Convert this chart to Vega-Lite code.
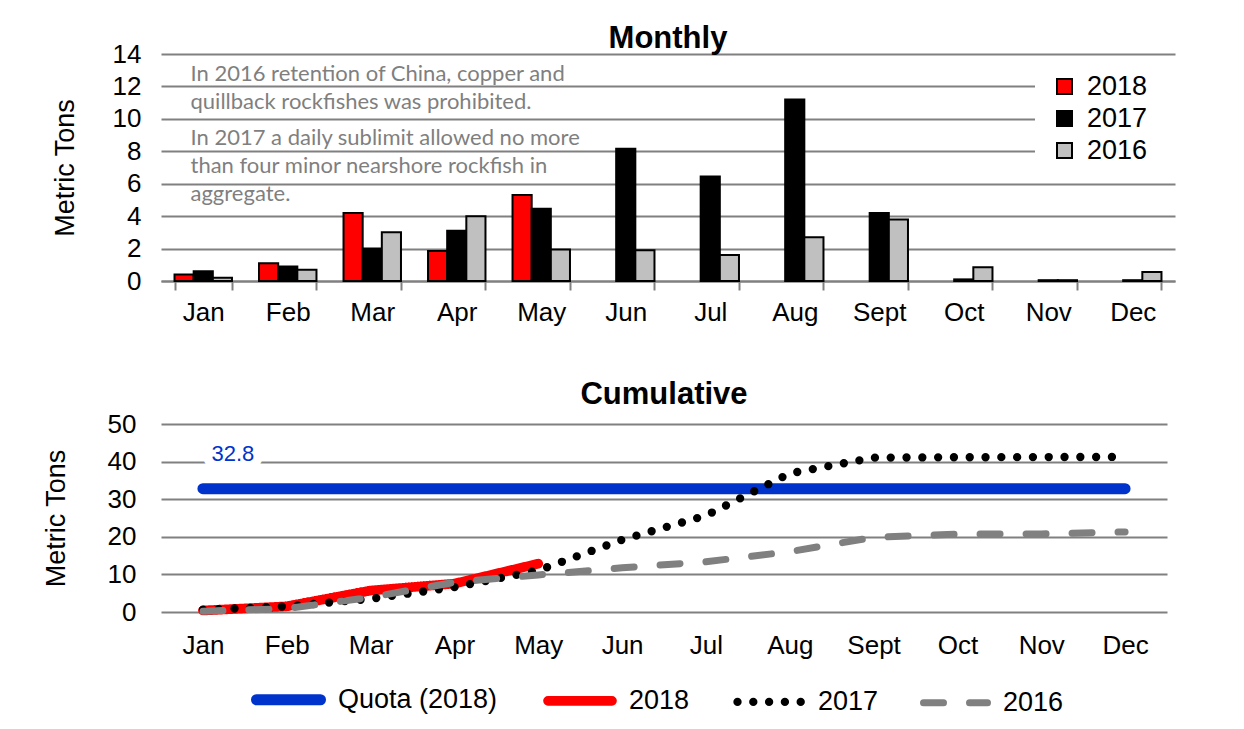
{
  "$schema": "https://vega.github.io/schema/vega-lite/v6.json",
  "padding": {"left": 42, "top": 23, "right": 0, "bottom": 0},
  "background": "white",
  "spacing": 54,
  "resolve": {
    "scale": {"color": "independent", "x": "independent", "y": "independent", "xOffset": "independent", "strokeDash": "independent", "strokeWidth": "independent"},
    "legend": {"color": "independent", "strokeDash": "independent", "strokeWidth": "independent"},
    "axis": {"x": "independent", "y": "independent"}
  },
  "datasets": {
    "monthly": [
      {"month": "Jan", "year": "2018", "value": 0.4},
      {"month": "Feb", "year": "2018", "value": 1.1},
      {"month": "Mar", "year": "2018", "value": 4.2},
      {"month": "Apr", "year": "2018", "value": 1.85},
      {"month": "May", "year": "2018", "value": 5.3},
      {"month": "Jan", "year": "2017", "value": 0.6},
      {"month": "Feb", "year": "2017", "value": 0.9},
      {"month": "Mar", "year": "2017", "value": 2.0},
      {"month": "Apr", "year": "2017", "value": 3.1},
      {"month": "May", "year": "2017", "value": 4.45},
      {"month": "Jun", "year": "2017", "value": 8.15},
      {"month": "Jul", "year": "2017", "value": 6.45},
      {"month": "Aug", "year": "2017", "value": 11.2},
      {"month": "Sept", "year": "2017", "value": 4.2},
      {"month": "Oct", "year": "2017", "value": 0.1},
      {"month": "Nov", "year": "2017", "value": 0.05},
      {"month": "Dec", "year": "2017", "value": 0.05},
      {"month": "Jan", "year": "2016", "value": 0.2},
      {"month": "Feb", "year": "2016", "value": 0.7},
      {"month": "Mar", "year": "2016", "value": 3.0},
      {"month": "Apr", "year": "2016", "value": 4.0},
      {"month": "May", "year": "2016", "value": 1.95},
      {"month": "Jun", "year": "2016", "value": 1.9},
      {"month": "Jul", "year": "2016", "value": 1.6},
      {"month": "Aug", "year": "2016", "value": 2.7},
      {"month": "Sept", "year": "2016", "value": 3.8},
      {"month": "Oct", "year": "2016", "value": 0.85},
      {"month": "Nov", "year": "2016", "value": 0.05},
      {"month": "Dec", "year": "2016", "value": 0.55}
    ],
    "notes": [
      {"line": "In 2016 retention of China, copper and", "value": 12.78},
      {"line": "quillback rockfishes was prohibited.", "value": 11.05},
      {"line": "In 2017  a daily sublimit allowed no more", "value": 8.83},
      {"line": "than four minor nearshore rockfish in", "value": 7.1},
      {"line": "aggregate.", "value": 5.37}
    ],
    "cumulative": [
      {"series": "Quota (2018)", "month": "Jan", "value": 32.8},
      {"series": "Quota (2018)", "month": "Feb", "value": 32.8},
      {"series": "Quota (2018)", "month": "Mar", "value": 32.8},
      {"series": "Quota (2018)", "month": "Apr", "value": 32.8},
      {"series": "Quota (2018)", "month": "May", "value": 32.8},
      {"series": "Quota (2018)", "month": "Jun", "value": 32.8},
      {"series": "Quota (2018)", "month": "Jul", "value": 32.8},
      {"series": "Quota (2018)", "month": "Aug", "value": 32.8},
      {"series": "Quota (2018)", "month": "Sept", "value": 32.8},
      {"series": "Quota (2018)", "month": "Oct", "value": 32.8},
      {"series": "Quota (2018)", "month": "Nov", "value": 32.8},
      {"series": "Quota (2018)", "month": "Dec", "value": 32.8},
      {"series": "2018", "month": "Jan", "value": 0.4},
      {"series": "2018", "month": "Feb", "value": 1.5},
      {"series": "2018", "month": "Mar", "value": 5.7},
      {"series": "2018", "month": "Apr", "value": 7.55},
      {"series": "2018", "month": "May", "value": 12.85},
      {"series": "2017", "month": "Jan", "value": 0.6},
      {"series": "2017", "month": "Feb", "value": 1.5},
      {"series": "2017", "month": "Mar", "value": 3.5},
      {"series": "2017", "month": "Apr", "value": 6.6},
      {"series": "2017", "month": "May", "value": 11.05},
      {"series": "2017", "month": "Jun", "value": 19.2},
      {"series": "2017", "month": "Jul", "value": 25.65},
      {"series": "2017", "month": "Aug", "value": 36.85},
      {"series": "2017", "month": "Sept", "value": 41.05},
      {"series": "2017", "month": "Oct", "value": 41.15},
      {"series": "2017", "month": "Nov", "value": 41.2},
      {"series": "2017", "month": "Dec", "value": 41.25},
      {"series": "2016", "month": "Jan", "value": 0.2},
      {"series": "2016", "month": "Feb", "value": 0.9},
      {"series": "2016", "month": "Mar", "value": 3.9},
      {"series": "2016", "month": "Apr", "value": 7.9},
      {"series": "2016", "month": "May", "value": 9.85},
      {"series": "2016", "month": "Jun", "value": 11.75},
      {"series": "2016", "month": "Jul", "value": 13.35},
      {"series": "2016", "month": "Aug", "value": 16.05},
      {"series": "2016", "month": "Sept", "value": 19.85},
      {"series": "2016", "month": "Oct", "value": 20.7},
      {"series": "2016", "month": "Nov", "value": 20.75},
      {"series": "2016", "month": "Dec", "value": 21.3}
    ],
    "quotaLabel": [
      {"label": "32.8", "month": "Jan", "value": 42}
    ]
  },
  "config": {
    "font": "Liberation Sans",
    "view": {"stroke": null},
    "axis": {
      "labelColor": "black",
      "titleColor": "black",
      "labelFont": "Liberation Sans",
      "titleFont": "Liberation Sans",
      "titleFontWeight": "normal",
      "gridColor": "#808080",
      "gridWidth": 2,
      "gridOpacity": 1,
      "labelFontSize": 26,
      "titleFontSize": 27
    },
    "legend": {"labelFont": "Liberation Sans", "labelFontSize": 27, "labelColor": "black", "labelLimit": 400},
    "title": {"fontSize": 31, "fontWeight": "bold", "color": "black", "font": "Liberation Sans", "anchor": "middle"}
  },
  "vconcat": [
    {
      "width": 1014,
      "height": 227,
      "title": {"text": "Monthly", "offset": -14},
      "encoding": {
        "y": {
          "field": "value", "type": "quantitative",
          "scale": {"domain": [0, 14]},
          "axis": {"values": [0, 2, 4, 6, 8, 10, 12, 14], "title": "Metric Tons", "domain": false, "ticks": false, "labelPadding": 20, "titlePadding": 33}
        }
      },
      "layer": [
        {
          "data": {"name": "monthly"},
          "mark": {"type": "bar", "stroke": "black", "strokeWidth": 2},
          "encoding": {
            "x": {
              "field": "month", "type": "nominal",
              "sort": ["Jan", "Feb", "Mar", "Apr", "May", "Jun", "Jul", "Aug", "Sept", "Oct", "Nov", "Dec"],
              "scale": {"paddingInner": 0.32, "paddingOuter": 0.16},
              "axis": {"title": null, "tickBand": "extent", "domainColor": "#808080", "domainWidth": 2, "tickColor": "#808080", "tickWidth": 2, "tickSize": 9, "labelPadding": 9, "labelAngle": 0}
            },
            "xOffset": {"field": "year", "type": "nominal", "scale": {"domain": ["2018", "2017", "2016"], "paddingInner": 0, "paddingOuter": 0}},
            "color": {
              "field": "year", "type": "nominal",
              "scale": {"domain": ["2018", "2017", "2016"], "range": ["#ff0000", "#000000", "#c0c0c0"]},
              "legend": {
                "orient": "none", "legendX": 874, "legendY": 3, "direction": "vertical",
                "title": "xx", "titleOrient": "right", "titleColor": "white", "titleFontSize": 12, "titlePadding": 2,
                "fillColor": "white", "padding": 16,
                "symbolType": "square", "symbolSize": 225, "symbolStrokeColor": "black", "symbolStrokeWidth": 2,
                "labelOffset": 9, "rowPadding": 4
              }
            }
          }
        },
        {
          "data": {"name": "notes"},
          "mark": {"type": "text", "align": "left", "baseline": "middle", "font": "Lato", "fontSize": 22, "color": "#7f7f7f", "dx": 16},
          "encoding": {
            "x": {"datum": "Jan", "type": "nominal", "bandPosition": 0,
              "sort": ["Jan", "Feb", "Mar", "Apr", "May", "Jun", "Jul", "Aug", "Sept", "Oct", "Nov", "Dec"],
              "axis": {"title": null, "tickBand": "extent", "domainColor": "#808080", "domainWidth": 2, "tickColor": "#808080", "tickWidth": 2, "tickSize": 9, "labelPadding": 9, "labelAngle": 0}},
            "text": {"field": "line"}
          }
        }
      ]
    },
    {
      "width": 1006,
      "height": 188,
      "title": {"text": "Cumulative", "offset": 0},
      "encoding": {
        "x": {
          "field": "month", "type": "ordinal",
          "sort": ["Jan", "Feb", "Mar", "Apr", "May", "Jun", "Jul", "Aug", "Sept", "Oct", "Nov", "Dec"],
          "scale": {"type": "point", "padding": 0.5},
          "axis": {"title": null, "domain": false, "ticks": false, "labelPadding": 20, "labelAngle": 0}
        },
        "y": {
          "field": "value", "type": "quantitative",
          "scale": {"domain": [0, 50]},
          "axis": {"values": [0, 10, 20, 30, 40, 50], "title": "Metric Tons", "domain": false, "ticks": false, "labelPadding": 25, "titlePadding": 37}
        }
      },
      "layer": [
        {
          "data": {"name": "cumulative"},
          "mark": {"type": "line", "strokeCap": "round", "strokeJoin": "round"},
          "encoding": {
            "color": {
              "field": "series", "type": "nominal",
              "scale": {"domain": ["Quota (2018)", "2018", "2017", "2016"], "range": ["#0033cc", "#ff0000", "#000000", "#808080"]},
              "legend": {
                "orient": "none", "legendX": 90, "legendY": 238, "direction": "horizontal", "title": null,
                "symbolType": "stroke", "symbolSize": 4096,
                "labelOffset": 12, "columnPadding": 30, "padding": 0,
                "encoding": {"symbols": {"strokeCap": {"value": "round"}}}
              }
            },
            "strokeDash": {
              "field": "series", "type": "nominal",
              "scale": {"domain": ["Quota (2018)", "2018", "2017", "2016"], "range": [[1, 0], [1, 0], [0, 15.8], [20, 26]]}
            },
            "strokeWidth": {
              "field": "series", "type": "nominal",
              "scale": {"domain": ["Quota (2018)", "2018", "2017", "2016"], "range": [11, 7, 6, 7]}
            }
          }
        },
        {
          "data": {"name": "quotaLabel"},
          "mark": {"type": "text", "fontSize": 22, "color": "white", "stroke": "white", "strokeWidth": 18, "strokeJoin": "round", "dx": 30, "baseline": "middle"},
          "encoding": {"text": {"field": "label"}}
        },
        {
          "data": {"name": "quotaLabel"},
          "mark": {"type": "text", "fontSize": 22, "color": "#0033cc", "dx": 30, "baseline": "middle"},
          "encoding": {"text": {"field": "label"}}
        }
      ]
    }
  ]
}
